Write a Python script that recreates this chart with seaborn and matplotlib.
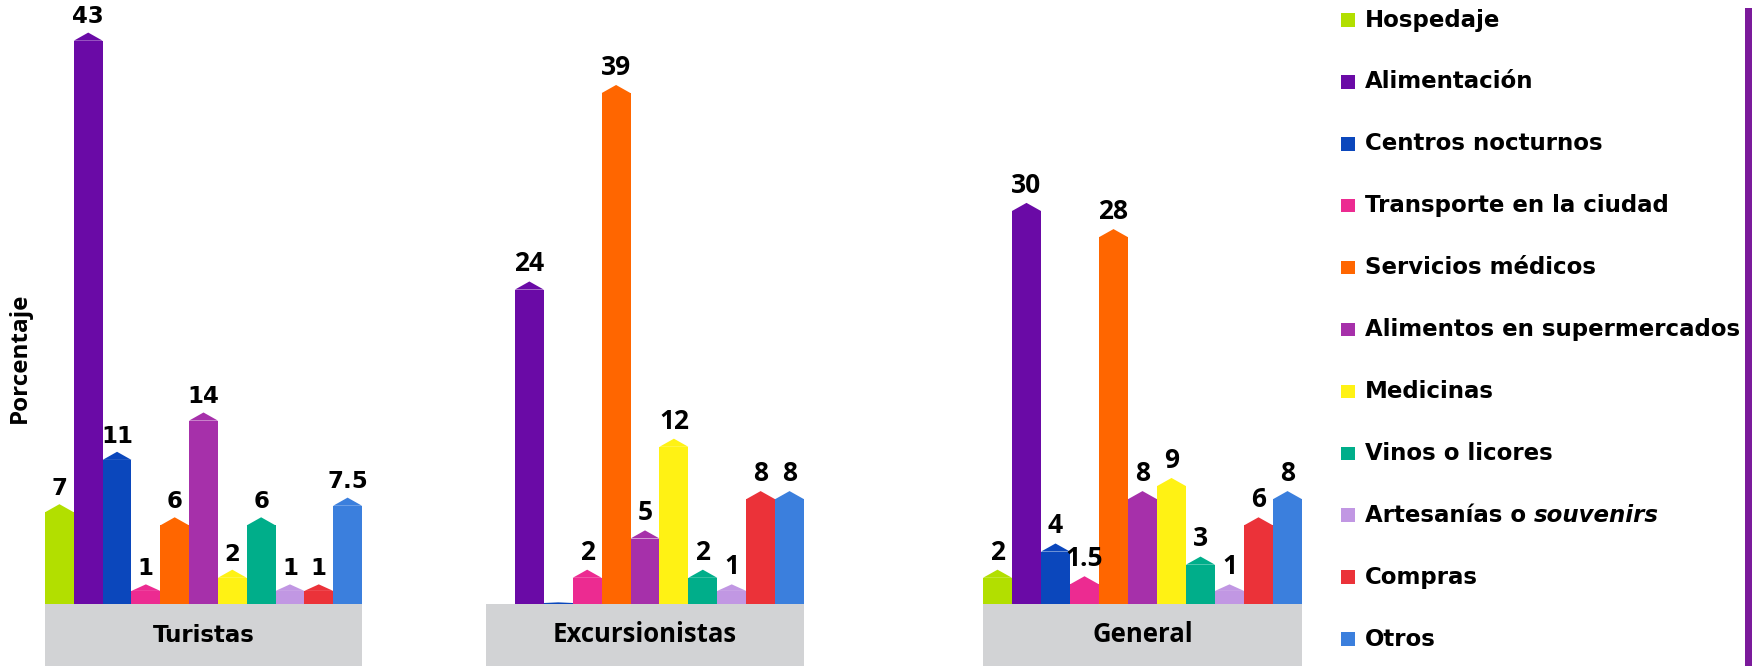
import numpy as np
import pandas as pd
import matplotlib
matplotlib.use("Agg")
import matplotlib.pyplot as plt
from matplotlib.patches import Polygon, Rectangle
import seaborn as sns

# categorias (orden de la leyenda y de las barras)
categorias = ["Hospedaje", "Alimentación", "Centros nocturnos", "Transporte en la ciudad",
              "Servicios médicos", "Alimentos en supermercados", "Medicinas",
              "Vinos o licores", "Artesanías o souvenirs", "Compras", "Otros"]
grupos = ["Turistas", "Excursionistas", "General"]

turistas = [7, 43, 11, 1, 6, 14, 2, 6, 1, 1, 7.5]
excursionistas = [np.nan, 24, 0.1, 2, 39, 5, 12, 2, 1, 8, 8]
general = [2, 30, 4, 1.5, 28, 8, 9, 3, 1, 6, 8]

colores = ["#b2df00", "#6a0aa6", "#0b47bc", "#ec2b91", "#ff6600", "#a630aa",
           "#fff214", "#00ae8a", "#c197e3", "#eb3239", "#3b7fdd"]

df = pd.DataFrame({
    "grupo": np.repeat(grupos, len(categorias)),
    "categoria": categorias * len(grupos),
    "valor": turistas + excursionistas + general,
})
paleta = dict(zip(categorias, colores))

sns.set_style("white")
plt.rcParams["font.family"] = ["DejaVu Sans"]
plt.rcParams["text.color"] = "black"

W, H = 1752, 666
fig = plt.figure(figsize=(W / 100, H / 100), dpi=100)

px_unit = 13.1          # pixels per percentage unit
y_min = -62 / px_unit   # gray label band below the baseline
y_max = y_min + H / px_unit
cap = 0.62

# left edge / width of each group panel in pixels
paneles = {"Turistas": (45, 317), "Excursionistas": (486, 318), "General": (983, 319)}
fuentes = {"Turistas": ("DejaVu Sans", 16.5, 16.5),
           "Excursionistas": ("Open Sans", 19, 18.5),
           "General": ("Open Sans", 19, 18.5)}

for g in grupos:
    left, width = paneles[g]
    ax = fig.add_axes([left / W, 0, width / W, 1])
    sub = df[df["grupo"] == g]
    sns.barplot(data=sub, x="categoria", y="valor", hue="categoria", order=categorias,
                hue_order=categorias, palette=paleta, width=1, saturation=1,
                legend=False, ax=ax, linewidth=0, errorbar=None)
    ax.set_xlim(-0.5, len(categorias) - 0.5)
    ax.set_ylim(y_min, y_max)
    ax.axhspan(y_min, 0, color="#d2d3d5", zorder=0, lw=0)
    ax.axis("off")

    fam, vsize, gsize = fuentes[g]
    for p in ax.patches:
        if not isinstance(p, Rectangle):
            continue
        h = p.get_height()
        if np.isnan(h) or h <= 0 or p.get_y() != 0:
            continue
        x0, w = p.get_x(), p.get_width()
        c = min(cap, 0.5 * h)
        ax.add_patch(Polygon([(x0, h), (x0 + w / 2, h + c), (x0 + w, h)],
                             closed=True, facecolor=p.get_facecolor(), lw=0))
        if h >= 0.5:
            txt = f"{h:g}"
            ax.annotate(txt, (x0 + w / 2, h + c), xytext=(0, 3), textcoords="offset points",
                        ha="center", va="bottom", fontsize=vsize, fontweight="bold",
                        family=fam, color="black")
    ax.text((len(categorias) - 1) / 2, y_min / 2, g, ha="center", va="center",
            fontsize=gsize, fontweight="bold", family=fam, color="black")

fig.text(20 / W, 1 - 358 / H, "Porcentaje", rotation=90, ha="center", va="center",
         fontsize=17.5, fontweight="bold", family="Open Sans")

# legend, drawn by hand
fila0, paso = 20, 61.9
sq = 13.5
renderer = fig.canvas.get_renderer()
for i, (cat, col) in enumerate(zip(categorias, colores)):
    yc = H - (fila0 + i * paso)
    fig.add_artist(Rectangle((1341 / W, (yc - sq / 2) / H), sq / W, sq / H,
                             transform=fig.transFigure, facecolor=col, lw=0))
    if cat.endswith("souvenirs"):
        t = fig.text(1365 / W, yc / H, "Artesanías o", ha="left", va="center",
                     fontsize=16.5, fontweight="bold")
        bb = t.get_window_extent(renderer)
        fig.text((bb.x1 + 8) / W, yc / H, "souvenirs", ha="left", va="center",
                 fontsize=16.5, fontweight="bold", style="italic")
    else:
        fig.text(1365 / W, yc / H, cat, ha="left", va="center",
                 fontsize=16.5, fontweight="bold")

# purple border line on the right
fig.add_artist(Rectangle((1745 / W, 0), 7 / W, 1 - 8 / H, transform=fig.transFigure,
                         facecolor="#7b1a9b", lw=0))

fig.savefig("out.png", dpi=100)
